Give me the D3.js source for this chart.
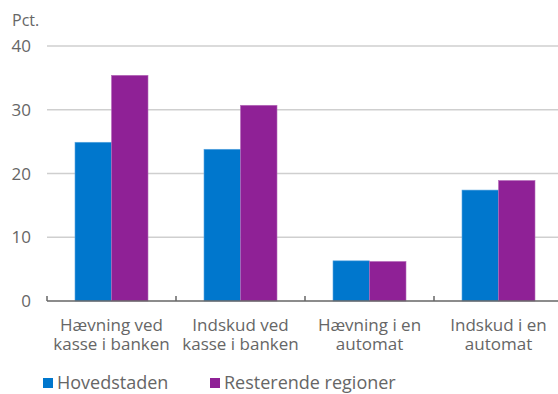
<!DOCTYPE html>
<html>
<head>
<meta charset="utf-8">
<script src="https://cdn.jsdelivr.net/npm/d3@7"></script>
<style>
  html, body { margin: 0; padding: 0; background: #fff; }
  svg { display: block; font-family: "Open Sans", "Noto Sans", sans-serif; }
</style>
</head>
<body>
<svg id="chart" width="558" height="394"></svg>
<script>
// Share of respondents (Pct.) by type of cash transaction
const categories = [
  ["Hævning ved", "kasse i banken"],
  ["Indskud ved", "kasse i banken"],
  ["Hævning i en", "automat"],
  ["Indskud i en", "automat"]
];
const seriesNames = ["Hovedstaden", "Resterende regioner"];
const hovedstaden = [24.9, 23.8, 6.3, 17.4];
const resterende = [35.4, 30.7, 6.2, 18.9];
const yTicks = [0, 10, 20, 30, 40];
const colors = ["#0077cd", "#8f2196"];

const svg = d3.select("#chart");
const x0 = 47, x1 = 563, yTop = 46, yBottom = 301;

const x = d3.scaleBand().domain(d3.range(categories.length)).range([x0, x1]);
// two bars per group, centred in each band
const barW = 36.5;
const xInner = d3.scaleBand().domain(d3.range(seriesNames.length))
  .range([x.bandwidth() / 2 - barW, x.bandwidth() / 2 + barW]);
const y = d3.scaleLinear().domain([0, 40]).range([yBottom, yTop]);

// horizontal gridlines
svg.append("g").selectAll("line").data(yTicks.filter(d => d > 0)).join("line")
  .attr("x1", x0).attr("x2", 558)
  .attr("y1", d => y(d)).attr("y2", d => y(d))
  .attr("stroke", "#cfcfcf").attr("stroke-width", 1.5);

// y tick labels
svg.append("g").selectAll("text").data(yTicks).join("text")
  .attr("x", 31).attr("y", d => y(d)).attr("dy", "0.36em")
  .attr("text-anchor", "end").attr("font-size", 17).attr("fill", "#666")
  .text(d => d);

svg.append("text").attr("x", 12).attr("y", 26)
  .attr("font-size", 16).attr("fill", "#666").text("Pct.");

// bars
const seriesData = [hovedstaden, resterende];
const groups = svg.append("g").selectAll("g").data(categories.map((c, i) => i)).join("g")
  .attr("transform", i => `translate(${x(i)},0)`);
groups.selectAll("rect").data(i => seriesData.map((s, k) => ({ k, v: s[i] }))).join("rect")
  .attr("x", d => xInner(d.k))
  .attr("width", xInner.bandwidth())
  .attr("y", d => y(d.v))
  .attr("height", d => y(0) - y(d.v))
  .attr("fill", d => colors[d.k])
  .attr("stroke", d => d.k === 0 ? "#5aa6e0" : "#b56bba")
  .attr("stroke-width", 0.6);

// x axis line and ticks
const axis = svg.append("g");
axis.append("line").attr("x1", x0).attr("x2", 558).attr("y1", yBottom).attr("y2", yBottom)
  .attr("stroke", "#666").attr("stroke-width", 1.5);
axis.selectAll("line.tick").data(d3.range(categories.length + 1)).join("line")
  .attr("class", "tick")
  .attr("x1", i => x0 + i * x.step()).attr("x2", i => x0 + i * x.step())
  .attr("y1", yBottom - 5).attr("y2", yBottom)
  .attr("stroke", "#666").attr("stroke-width", 1.5);

// category labels, two lines each
const labels = svg.append("g").selectAll("g").data(categories).join("g")
  .attr("transform", (d, i) => `translate(${x(i) + x.bandwidth() / 2},331)`);
labels.selectAll("text").data(d => d).join("text")
  .attr("x", 0).attr("y", (d, j) => j * 19)
  .attr("text-anchor", "middle").attr("font-size", 17).attr("fill", "#666")
  .text(d => d);

// legend
const legendX = [43, 210];
const legend = svg.append("g").selectAll("g").data(seriesNames).join("g")
  .attr("transform", (d, i) => `translate(${legendX[i]},378)`);
legend.append("rect").attr("width", 10).attr("height", 10).attr("fill", (d, i) => colors[i]);
legend.append("text").attr("x", 14).attr("y", 5).attr("dy", "0.36em")
  .attr("font-size", 18).attr("fill", "#666").text(d => d);
</script>
</body>
</html>
